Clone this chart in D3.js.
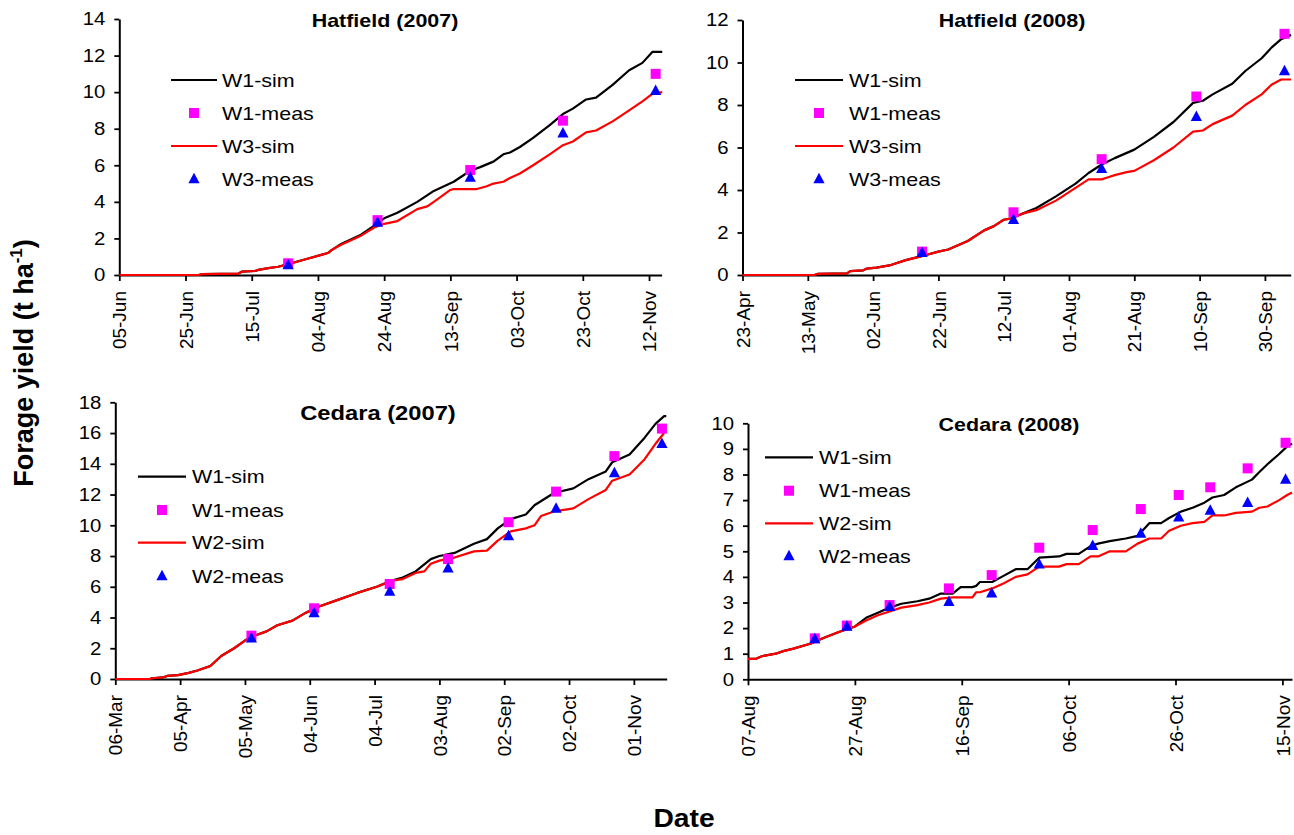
<!DOCTYPE html>
<html>
<head>
<meta charset="utf-8">
<script src="https://cdn.jsdelivr.net/npm/d3@7"></script>
<style>
  html, body { margin: 0; padding: 0; background: #fff; }
  svg { display: block; font-family: "Liberation Sans", Arial, sans-serif; }
</style>
</head>
<body>
<svg id="chart" width="1294" height="835"></svg>
<script>
// ---------------- DATA ----------------
// Hatfield (2007) — days after 05-Jun-2007
const hat07Start = "2007-06-05";
const hat07Ticks = ["05-Jun","25-Jun","15-Jul","04-Aug","24-Aug","13-Sep","03-Oct","23-Oct","12-Nov"];
const hat07W1SimDays = [0,24,25,36,37,41,42,45,48,51,56,61,63,64,67,73,77,80,84,90,95,101,106,109,113,116,118,121,125,130,134,137,141,144,149,154,158,161,164];
const hat07W1Sim     = [0,0,0.05,0.08,0.18,0.22,0.28,0.38,0.45,0.6,0.85,1.1,1.2,1.35,1.7,2.2,2.7,3.1,3.4,4.0,4.6,5.1,5.7,5.9,6.2,6.6,6.7,7.0,7.5,8.2,8.8,9.1,9.6,9.7,10.4,11.2,11.6,12.2,12.2];
const hat07W3SimDays = [0,24,25,36,37,41,42,45,48,51,56,61,63,64,67,73,77,80,84,90,93,95,100,101,108,111,113,116,118,121,125,130,134,137,141,144,149,154,158,161,164];
const hat07W3Sim     = [0,0,0.05,0.08,0.18,0.22,0.28,0.38,0.45,0.58,0.85,1.1,1.2,1.35,1.65,2.15,2.6,2.8,2.95,3.6,3.75,4.0,4.65,4.7,4.7,4.85,5.0,5.1,5.3,5.55,6.0,6.6,7.1,7.3,7.8,7.9,8.4,9.0,9.5,9.9,10.0];
const hat07MeasDays  = [51,78,106,134,162];
const hat07W1Meas    = [0.64,3.0,5.74,8.44,11.0];
const hat07W3Meas    = [0.55,2.88,5.34,7.75,10.08];

// Hatfield (2008) — days after 23-Apr-2008
const hat08Start = "2008-04-23";
const hat08Ticks = ["23-Apr","13-May","02-Jun","22-Jun","12-Jul","01-Aug","21-Aug","10-Sep","30-Sep"];
const hat08W1SimDays = [0,22,23,32,33,37,38,41,45,50,54,60,63,66,69,74,77,80,82,86,90,96,102,106,110,114,120,126,132,138,141,144,150,154,159,162,165,168];
const hat08W1Sim     = [0,0,0.05,0.08,0.18,0.22,0.3,0.35,0.45,0.7,0.85,1.1,1.2,1.4,1.6,2.1,2.3,2.6,2.65,2.9,3.15,3.7,4.3,4.8,5.2,5.5,5.9,6.5,7.2,8.1,8.2,8.5,9.0,9.6,10.2,10.7,11.1,11.3];
const hat08W3SimDays = [0,22,23,32,33,37,38,41,45,50,54,60,63,66,69,74,77,80,82,86,90,96,102,106,110,112,114,118,120,126,132,138,141,144,150,154,159,162,165,168];
const hat08W3Sim     = [0,0,0.05,0.08,0.18,0.22,0.3,0.35,0.45,0.7,0.85,1.1,1.2,1.4,1.6,2.1,2.3,2.6,2.65,2.9,3.05,3.5,4.1,4.5,4.5,4.6,4.7,4.85,4.9,5.4,6.0,6.75,6.8,7.1,7.5,8.0,8.5,8.95,9.2,9.2];
const hat08MeasDays  = [55,83,110,139,166];
const hat08W1Meas    = [1.1,2.95,5.45,8.4,11.35];
const hat08W3Meas    = [1.05,2.6,5.0,7.45,9.6];

// Cedara (2007) — days after 06-Mar-2007
const ced07Start = "2007-03-06";
const ced07Ticks = ["06-Mar","05-Apr","05-May","04-Jun","04-Jul","03-Aug","02-Sep","02-Oct","01-Nov"];
const ced07W1SimDays = [0,16,17,22,24,29,34,38,42,44,49,55,60,63,70,75,82,88,93,102,112,121,128,133,139,146,150,157,166,172,177,183,190,194,203,212,219,227,230,238,245,250,254,255];
const ced07W1Sim     = [0,0,0.05,0.1,0.2,0.25,0.4,0.55,0.75,0.85,1.5,2.0,2.5,2.75,3.1,3.5,3.8,4.3,4.65,5.1,5.6,6.0,6.4,6.6,7.0,7.8,8.0,8.2,8.8,9.1,9.8,10.4,10.7,11.3,12.1,12.4,13.0,13.5,14.1,14.6,15.7,16.6,17.1,17.1];
const ced07W2SimDays = [0,16,17,22,24,29,34,38,42,44,49,55,60,63,70,75,82,88,93,102,112,121,128,133,139,143,146,150,157,166,172,177,183,190,194,197,203,212,219,227,230,238,245,250,254];
const ced07W2Sim     = [0,0,0.05,0.1,0.2,0.25,0.4,0.55,0.75,0.85,1.5,2.0,2.5,2.75,3.1,3.5,3.8,4.3,4.65,5.1,5.6,6.0,6.4,6.5,6.9,7.0,7.5,7.7,7.9,8.3,8.35,9.0,9.6,9.8,10.0,10.6,10.9,11.1,11.7,12.3,12.9,13.3,14.3,15.3,16.0];
const ced07MeasDays  = [63,92,127,154,182,204,231,253];
const ced07W1Meas    = [2.82,4.6,6.18,7.8,10.2,12.19,14.5,16.29];
const ced07W2Meas    = [2.65,4.3,5.7,7.2,9.3,11.1,13.4,15.3];

// Cedara (2008) — days after 07-Aug-2008
const ced08Start = "2008-08-07";
const ced08Ticks = ["07-Aug","27-Aug","16-Sep","06-Oct","26-Oct","15-Nov"];
const ced08SimDays = [0,1.5,2.6,5.2,6.6,8.5,11.8,14,17,19.9,22.1,24.3,26.5,28.7,31.7,33.9,36.1,38.3,39.8,42,42.7,43.4,45.7,47.9,50.1,52.3,54.5,58.2,59.6,61.9,64.1,65.5,67.7,70.7,72.9,75.1,77.3,78.8,81,83.2,85.4,86.9,89.1,91.3,94.3,95.7,97.2,99.4,100.9,101.8];
const ced08W1Sim     = [0.8,0.8,0.9,1.0,1.1,1.2,1.4,1.6,1.85,2.05,2.4,2.6,2.8,2.95,3.05,3.15,3.35,3.35,3.6,3.6,3.65,3.8,3.8,4.05,4.3,4.3,4.75,4.8,4.9,4.9,5.2,5.3,5.4,5.5,5.6,6.1,6.1,6.3,6.55,6.7,6.9,7.1,7.2,7.5,7.8,8.1,8.4,8.8,9.1,9.2];
const ced08W2Sim     = [0.8,0.8,0.9,1.0,1.1,1.2,1.4,1.6,1.85,2.05,2.3,2.5,2.65,2.8,2.9,3.0,3.15,3.2,3.2,3.2,3.4,3.4,3.55,3.75,4.0,4.1,4.4,4.4,4.5,4.5,4.8,4.8,5.0,5.0,5.3,5.5,5.5,5.8,6.0,6.1,6.15,6.4,6.4,6.5,6.55,6.7,6.75,7.0,7.2,7.3];
const ced08MeasDays  = [12.5,18.5,26.5,37.6,45.6,54.5,64.5,73.5,80.6,86.5,93.5,100.6];
const ced08W1Meas    = [1.6,2.1,2.9,3.55,4.07,5.14,5.83,6.65,7.2,7.5,8.24,9.24];
const ced08W2Meas    = [1.58,2.06,2.84,3.03,3.36,4.5,5.22,5.7,6.33,6.6,6.9,7.81];

// ---------------- CHART ----------------
const DAY = 864e5;
const SX = 1.13; // horizontal stretch of the original figure's text
const svg = d3.select("#chart");
const parseStart = d3.utcParse("%Y-%m-%d");
const parseTick = d3.utcParse("%d-%b-%Y");
const fmtTick = d3.utcFormat("%d-%b");

const panels = [
  { title: "Hatfield (2007)", tsize: 19, start: hat07Start, ticks: hat07Ticks, span: 163.8, yMax: 14, yStep: 2,
    left: 119.3, right: 661.6, top: 19, bottom: 275,
    titleX: 385, titleY: 20, leg: { x0: 171, x1: 217, tx: 222, ys: [80,113,146,179] },
    names: ["W1-sim","W1-meas","W3-sim","W3-meas"],
    s1: [hat07W1SimDays, hat07W1Sim], s2: [hat07W3SimDays, hat07W3Sim],
    md: hat07MeasDays, m1: hat07W1Meas, m2: hat07W3Meas },
  { title: "Hatfield (2008)", tsize: 19, start: hat08Start, ticks: hat08Ticks, span: 167.9, yMax: 12, yStep: 2,
    left: 742.5, right: 1290.7, top: 20, bottom: 275,
    titleX: 1012, titleY: 20.5, leg: { x0: 795, x1: 843, tx: 849, ys: [80,113,146,179] },
    names: ["W1-sim","W1-meas","W3-sim","W3-meas"],
    s1: [hat08W1SimDays, hat08W1Sim], s2: [hat08W3SimDays, hat08W3Sim],
    md: hat08MeasDays, m1: hat08W1Meas, m2: hat08W3Meas },
  { title: "Cedara (2007)", tsize: 21, start: ced07Start, ticks: ced07Ticks, span: 255.2, yMax: 18, yStep: 2,
    left: 115.3, right: 666.7, top: 402.3, bottom: 679,
    titleX: 378, titleY: 413, leg: { x0: 138, x1: 186, tx: 192, ys: [476.7,510,542.7,576] },
    names: ["W1-sim","W1-meas","W2-sim","W2-meas"],
    s1: [ced07W1SimDays, ced07W1Sim], s2: [ced07W2SimDays, ced07W2Sim],
    md: ced07MeasDays, m1: ced07W1Meas, m2: ced07W2Meas },
  { title: "Cedara (2008)", tsize: 19, start: ced08Start, ticks: ced08Ticks, span: 101.8, yMax: 10, yStep: 1,
    left: 748, right: 1292, top: 423.3, bottom: 679.3,
    titleX: 1009, titleY: 424, leg: { x0: 765, x1: 813, tx: 819, ys: [457.3,490.7,523.3,556] },
    names: ["W1-sim","W1-meas","W2-sim","W2-meas"],
    s1: [ced08SimDays, ced08W1Sim], s2: [ced08SimDays, ced08W2Sim],
    md: ced08MeasDays, m1: ced08W1Meas, m2: ced08W2Meas }
];

const triPath = "M0,-6.2L5.6,4.3L-5.6,4.3Z";

function drawPanel(p) {
  const start = parseStart(p.start);
  const year = p.start.slice(0, 4);
  const toDate = d => new Date(+start + d * DAY);
  const x = d3.scaleUtc().domain([start, toDate(p.span)]).range([p.left, p.right]);
  const y = d3.scaleLinear().domain([0, p.yMax]).range([p.bottom, p.top]);
  const g = svg.append("g");

  // x axis
  const xa = g.append("g")
    .attr("transform", `translate(0,${p.bottom})`)
    .call(d3.axisBottom(x)
      .tickValues(p.ticks.map(t => parseTick(t + "-" + year)))
      .tickFormat(fmtTick).tickSize(6).tickSizeOuter(0).tickPadding(0));
  xa.select(".domain").attr("stroke", "#000").attr("stroke-width", 2);
  xa.selectAll(".tick line").attr("stroke", "#000").attr("stroke-width", 1.8);
  xa.selectAll(".tick text")
    .attr("transform", "rotate(-90)")
    .attr("text-anchor", "end")
    .attr("x", -16).attr("y", 0).attr("dy", "0.35em")
    .attr("font-size", 19).attr("fill", "#000")
    .attr("font-family", "Liberation Sans, Arial, sans-serif");

  // y axis
  const ya = g.append("g")
    .attr("transform", `translate(${p.left},0)`)
    .call(d3.axisLeft(y)
      .tickValues(d3.range(0, p.yMax + 0.001, p.yStep))
      .tickSize(5).tickSizeOuter(0).tickPadding(10));
  ya.select(".domain").attr("stroke", "#000").attr("stroke-width", 2);
  ya.selectAll(".tick line").attr("stroke", "#000").attr("stroke-width", 1.8);
  ya.selectAll(".tick text")
    .attr("x", 0)
    .attr("transform", `translate(-14,0) scale(${SX},1)`)
    .attr("font-size", 18).attr("fill", "#000")
    .attr("font-family", "Liberation Sans, Arial, sans-serif");

  const line = d3.line().x(d => x(toDate(d[0]))).y(d => y(d[1]));
  const pts = s => s[0].map((d, i) => [d, s[1][i]]);

  g.append("path").datum(pts(p.s1)).attr("d", line)
    .attr("fill", "none").attr("stroke", "#000").attr("stroke-width", 2.2).attr("stroke-linejoin", "round");
  g.append("path").datum(pts(p.s2)).attr("d", line)
    .attr("fill", "none").attr("stroke", "#ff0000").attr("stroke-width", 2.2).attr("stroke-linejoin", "round");

  g.selectAll(".sq").data(p.md.map((d, i) => [d, p.m1[i]])).enter().append("rect")
    .attr("x", d => x(toDate(d[0])) - 5).attr("y", d => y(d[1]) - 5)
    .attr("width", 10).attr("height", 10).attr("fill", "#ff00ff");
  g.selectAll(".tri").data(p.md.map((d, i) => [d, p.m2[i]])).enter().append("path")
    .attr("d", triPath)
    .attr("transform", d => `translate(${x(toDate(d[0]))},${y(d[1])})`)
    .attr("fill", "#0000ff");

  // title
  g.append("text")
    .attr("transform", `translate(${p.titleX},${p.titleY}) scale(${SX},1)`)
    .attr("dy", "0.35em")
    .attr("text-anchor", "middle").attr("font-weight", "bold").attr("font-size", p.tsize)
    .text(p.title);

  // legend
  const L = p.leg, mx = (L.x0 + L.x1) / 2;
  g.append("line").attr("x1", L.x0).attr("x2", L.x1).attr("y1", L.ys[0]).attr("y2", L.ys[0])
    .attr("stroke", "#000").attr("stroke-width", 2.2);
  g.append("rect").attr("x", mx - 5).attr("y", L.ys[1] - 5).attr("width", 10).attr("height", 10).attr("fill", "#ff00ff");
  g.append("line").attr("x1", L.x0).attr("x2", L.x1).attr("y1", L.ys[2]).attr("y2", L.ys[2])
    .attr("stroke", "#ff0000").attr("stroke-width", 2.2);
  g.append("path").attr("d", triPath).attr("transform", `translate(${mx},${L.ys[3]})`).attr("fill", "#0000ff");
  p.names.forEach((n, i) => {
    g.append("text")
      .attr("transform", `translate(${L.tx},${L.ys[i]}) scale(${SX},1)`)
      .attr("dy", "0.35em")
      .attr("font-size", 19).text(n);
  });
}

panels.forEach(drawPanel);

// axis titles
const yt = svg.append("text")
  .attr("transform", "translate(33,363) rotate(-90)")
  .attr("text-anchor", "middle").attr("font-weight", "bold").attr("font-size", 27);
yt.append("tspan").text("Forage yield (t ha");
yt.append("tspan").attr("dy", -11).attr("font-size", 17).text("-1");
yt.append("tspan").attr("dy", 11).text(")");

svg.append("text")
  .attr("transform", `translate(684,827) scale(${SX},1)`)
  .attr("text-anchor", "middle").attr("font-weight", "bold").attr("font-size", 25)
  .text("Date");
</script>
</body>
</html>
